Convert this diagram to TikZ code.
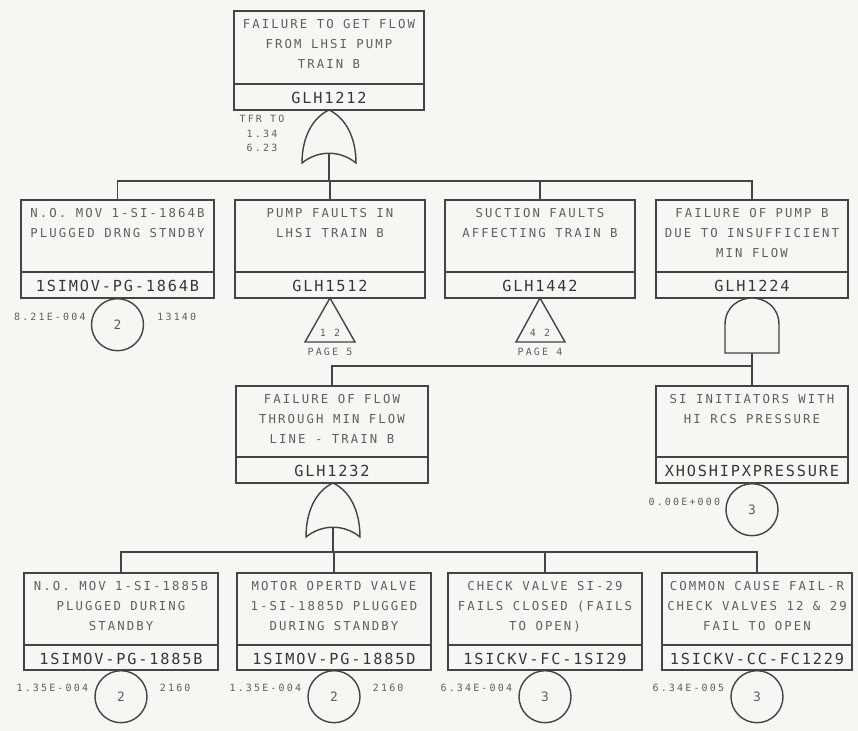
\documentclass[tikz,border=0pt]{standalone}
\usepackage{fontspec}
\newfontfamily\descfont[LetterSpace=17]{DejaVu Sans Mono}
\newfontfamily\idfont[LetterSpace=12]{DejaVu Sans Mono}
\newfontfamily\numfont[LetterSpace=22]{DejaVu Sans Mono}
\definecolor{bgc}{RGB}{247,246,242}
\definecolor{linec}{RGB}{68,68,68}
\definecolor{textc}{RGB}{95,95,95}
\definecolor{idc}{RGB}{55,55,55}
\tikzset{
  x=0.03cm, y=-0.03cm,
  boxline/.style={draw=linec, line width=1.3pt},
  conn/.style={draw=linec, line width=1.1pt},
  gate/.style={draw=linec, line width=1.2pt, fill=bgc},
  desc/.style={anchor=north, align=center, text=textc, inner sep=0pt,
    font=\descfont\fontsize{10.5}{17}\selectfont},
  idtxt/.style={anchor=center, text=idc, inner sep=0pt,
    font=\idfont\fontsize{13}{15}\selectfont},
  numtxt/.style={text=textc, inner sep=0pt,
    font=\numfont\fontsize{8.5}{12.5}\selectfont},
  evcirc/.style={circle, draw=linec, line width=1.2pt, minimum size=52*0.03cm,
    inner sep=0pt, text=textc, font=\descfont\fontsize{11}{12}\selectfont},
}
% name, x1, y1, x2, y2, ydiv, description, id
\newcommand\ftbox[8]{%
  \node[boxline, anchor=north west, inner sep=0pt, outer sep=0pt,
    minimum width={(#4-#2)*0.03cm}, minimum height={(#5-#3)*0.03cm}] (#1) at (#2,#3) {};
  \draw[boxline] (#2,#6) -- (#4,#6);
  \node[desc] (#1d) at ({(#2+#4)/2},#3+8) {#7};
  \node[idtxt] (#1i) at ({(#2+#4)/2},{(#6+#5)/2+1}) {#8};
}
\begin{document}
\begin{tikzpicture}
\fill[bgc] (0,0) rectangle (858,731);
\useasboundingbox (0,0) rectangle (858,731);

% ---- boxes
\ftbox{top}{234}{11}{424}{110}{84}{FAILURE TO GET FLOW\\FROM LHSI PUMP\\TRAIN B}{GLH1212}
\ftbox{ra}{21}{200}{214}{298}{272}{N.O. MOV 1-SI-1864B\\PLUGGED DRNG STNDBY}{1SIMOV-PG-1864B}
\ftbox{rb}{235}{200}{425}{298}{272}{PUMP FAULTS IN\\LHSI TRAIN B}{GLH1512}
\ftbox{rc}{445}{200}{635}{298}{272}{SUCTION FAULTS\\AFFECTING TRAIN B}{GLH1442}
\ftbox{rd}{656}{200}{848}{298}{272}{FAILURE OF PUMP B\\DUE TO INSUFFICIENT\\MIN FLOW}{GLH1224}
\ftbox{mid}{236}{386}{428}{483}{457}{FAILURE OF FLOW\\THROUGH MIN FLOW\\LINE - TRAIN B}{GLH1232}
\ftbox{si}{656}{386}{848}{483}{457}{SI INITIATORS WITH\\HI RCS PRESSURE}{XHOSHIPXPRESSURE}
\ftbox{ba}{24}{573}{218}{670}{645}{N.O. MOV 1-SI-1885B\\PLUGGED DURING\\STANDBY}{1SIMOV-PG-1885B}
\ftbox{bb}{237}{573}{431}{670}{645}{MOTOR OPERTD VALVE\\1-SI-1885D PLUGGED\\DURING STANDBY}{1SIMOV-PG-1885D}
\ftbox{bc}{448}{573}{642}{670}{645}{CHECK VALVE SI-29\\FAILS CLOSED (FAILS\\TO OPEN)}{1SICKV-FC-1SI29}
\ftbox{bd}{662}{573}{852}{670}{645}{COMMON CAUSE FAIL-R\\CHECK VALVES 12 \& 29\\FAIL TO OPEN}{1SICKV-CC-FC1229}

% ---- top OR gate
\coordinate (g1out) at (329,153);
\coordinate (bar1) at (329,181);
\draw[conn] (g1out) -- (bar1);
\draw[conn] (ra.north) -- (ra.north |- bar1) -- (rd.north |- bar1) -- (rd.north);
\draw[conn] (rb.north) -- (rb.north |- bar1);
\draw[conn] (rc.north) -- (rc.north |- bar1);
\draw[gate] (329,110) .. controls (312,118) and (302,138) .. (302,163)
  .. controls (318,150) and (340,150) .. (356,163)
  .. controls (356,138) and (346,118) .. (329,110) -- cycle;
\node[numtxt, align=center, anchor=north] (tfr) at (262,115) {TFR TO\\1.34\\6.23};

% ---- row 1 under-box symbols
\node[evcirc, anchor=north] (ca) at (ra.south) {2};
\node[numtxt, anchor=east] (pa) at ([xshift=-5*0.03cm, yshift=8*0.03cm]ca.west) {8.21E-004};
\node[numtxt, anchor=west] (qa) at ([xshift=13*0.03cm, yshift=8*0.03cm]ca.east) {13140};

\draw[boxline, line width=1.2pt] (rb.south) -- (305,342) -- (355,342) -- cycle;
\node[numtxt] (tb) at (330,333) {1 2};
\node[numtxt] (pgb) at (330,352) {PAGE 5};
\draw[boxline, line width=1.2pt] (rc.south) -- (516,342) -- (565,342) -- cycle;
\node[numtxt] (tc) at (540,333) {4 2};
\node[numtxt] (pgc) at (540,352) {PAGE 4};

% ---- AND gate under GLH1224
\coordinate (andout) at (752,353);
\coordinate (bar2) at (752,366);
\draw[conn] (andout) -- (si.north);
\draw[conn] (bar2) -- (mid.north |- bar2) -- (mid.north);
\draw[gate] (725,353) -- (725,325) .. controls (725,306) and (740,298) .. (752,298)
  .. controls (764,298) and (779,306) .. (779,325) -- (779,353) -- cycle;

% ---- SI event circle
\node[evcirc, anchor=north] (csi) at (si.south) {3};
\node[numtxt, anchor=east] (psi) at ([xshift=-5*0.03cm, yshift=8*0.03cm]csi.west) {0.00E+000};

% ---- mid OR gate
\coordinate (g2out) at (333,527);
\coordinate (bar3) at (333,552);
\draw[conn] (g2out) -- (bar3);
\draw[conn] (ba.north) -- (ba.north |- bar3) -- (bd.north |- bar3) -- (bd.north);
\draw[conn] (bb.north) -- (bb.north |- bar3);
\draw[conn] (bc.north) -- (bc.north |- bar3);
\draw[gate] (333,483) .. controls (316,491) and (306,511) .. (306,537)
  .. controls (322,524) and (344,524) .. (360,537)
  .. controls (360,511) and (350,491) .. (333,483) -- cycle;

% ---- bottom events
\node[evcirc, anchor=north] (cba) at (ba.south) {2};
\node[numtxt, anchor=east] (pba) at ([xshift=-6*0.03cm, yshift=9*0.03cm]cba.west) {1.35E-004};
\node[numtxt, anchor=west] (qba) at ([xshift=12*0.03cm, yshift=9*0.03cm]cba.east) {2160};
\node[evcirc, anchor=north] (cbb) at (bb.south) {2};
\node[numtxt, anchor=east] (pbb) at ([xshift=-6*0.03cm, yshift=9*0.03cm]cbb.west) {1.35E-004};
\node[numtxt, anchor=west] (qbb) at ([xshift=12*0.03cm, yshift=9*0.03cm]cbb.east) {2160};
\node[evcirc, anchor=north] (cbc) at (bc.south) {3};
\node[numtxt, anchor=east] (pbc) at ([xshift=-6*0.03cm, yshift=9*0.03cm]cbc.west) {6.34E-004};
\node[evcirc, anchor=north] (cbd) at (bd.south) {3};
\node[numtxt, anchor=east] (pbd) at ([xshift=-6*0.03cm, yshift=9*0.03cm]cbd.west) {6.34E-005};
\end{tikzpicture}
\end{document}
